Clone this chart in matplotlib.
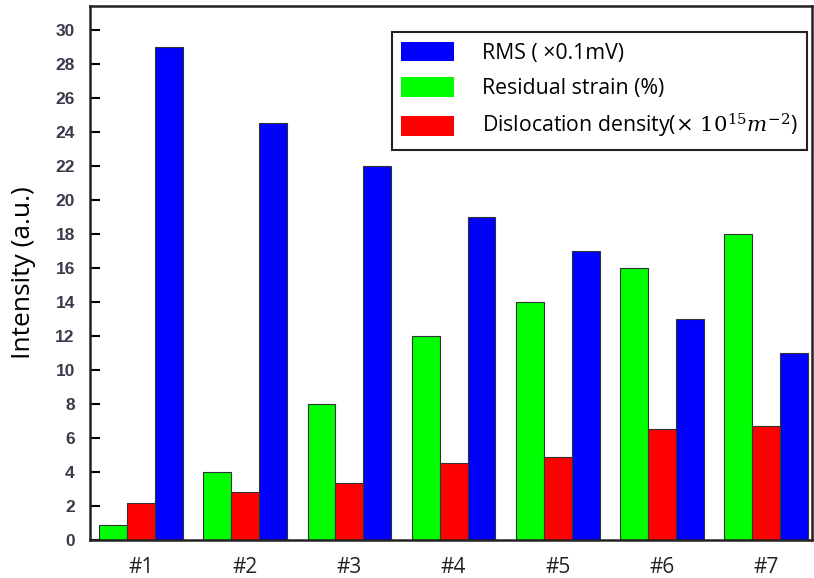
import matplotlib.pyplot as plt
import numpy as np

samples = ["#1", "#2", "#3", "#4", "#5", "#6", "#7"]
strain = [0.9, 4, 8, 12, 14, 16, 18]
disloc = [2.2, 2.8, 3.35, 4.5, 4.9, 6.5, 6.7]
rms = [29, 24.5, 22, 19, 17, 13, 11]

plt.rcParams['mathtext.fontset'] = 'dejavuserif'

fig = plt.figure(figsize=(8.14, 5.78), dpi=100)
ax = fig.add_axes([0.1106, 0.0657, 0.8869, 0.924])

x = np.arange(len(samples))
w = 0.268
edge = dict(edgecolor='#333333', linewidth=0.8)
ax.bar(x - w, strain, w, color='#00ff00', label='Residual strain (%)', **edge)
ax.bar(x, disloc, w, color='#ff0000', label=r'Dislocation density($\times\ 10^{15}m^{-2}$)', **edge)
ax.bar(x + w, rms, w, color='#0000ff', label='RMS ( ×0.1mV)', **edge)

ax.set_xlim(-0.49, 6.44)
ax.set_ylim(0, 31.4)
ax.set_yticks(range(0, 31, 2))
ax.set_xticks(x)
ax.set_xticklabels(samples, fontsize=15, family='Open Sans', color='#222222')
ax.tick_params(axis='x', length=0, pad=12)
ax.tick_params(axis='y', direction='in', length=7, width=1.5, labelsize=12.5,
               labelcolor='#3a3a4a', pad=11)
for lbl in ax.get_yticklabels():
    lbl.set_fontweight('bold')
    lbl.set_family('Liberation Sans')
for s in ax.spines.values():
    s.set_linewidth(1.8)
    s.set_color('#222222')

ax.set_ylabel('Intensity (a.u.)', fontsize=19, family='Open Sans', labelpad=14)

h, l = ax.get_legend_handles_labels()
order = [2, 0, 1]
leg = ax.legend([h[i] for i in order], [l[i] for i in order], loc='upper right',
                bbox_to_anchor=(0.993, 0.951), prop={'family': 'Open Sans', 'size': 15.3},
                fancybox=False, edgecolor='#222222', handlelength=2.5, handleheight=1.05,
                handletextpad=1.3, labelspacing=0.62, borderpad=0.45, borderaxespad=0,
                framealpha=1)
leg.get_frame().set_linewidth(1.5)
for p in leg.get_patches():
    p.set_edgecolor('none')

fig.savefig('out.png', dpi=100)
